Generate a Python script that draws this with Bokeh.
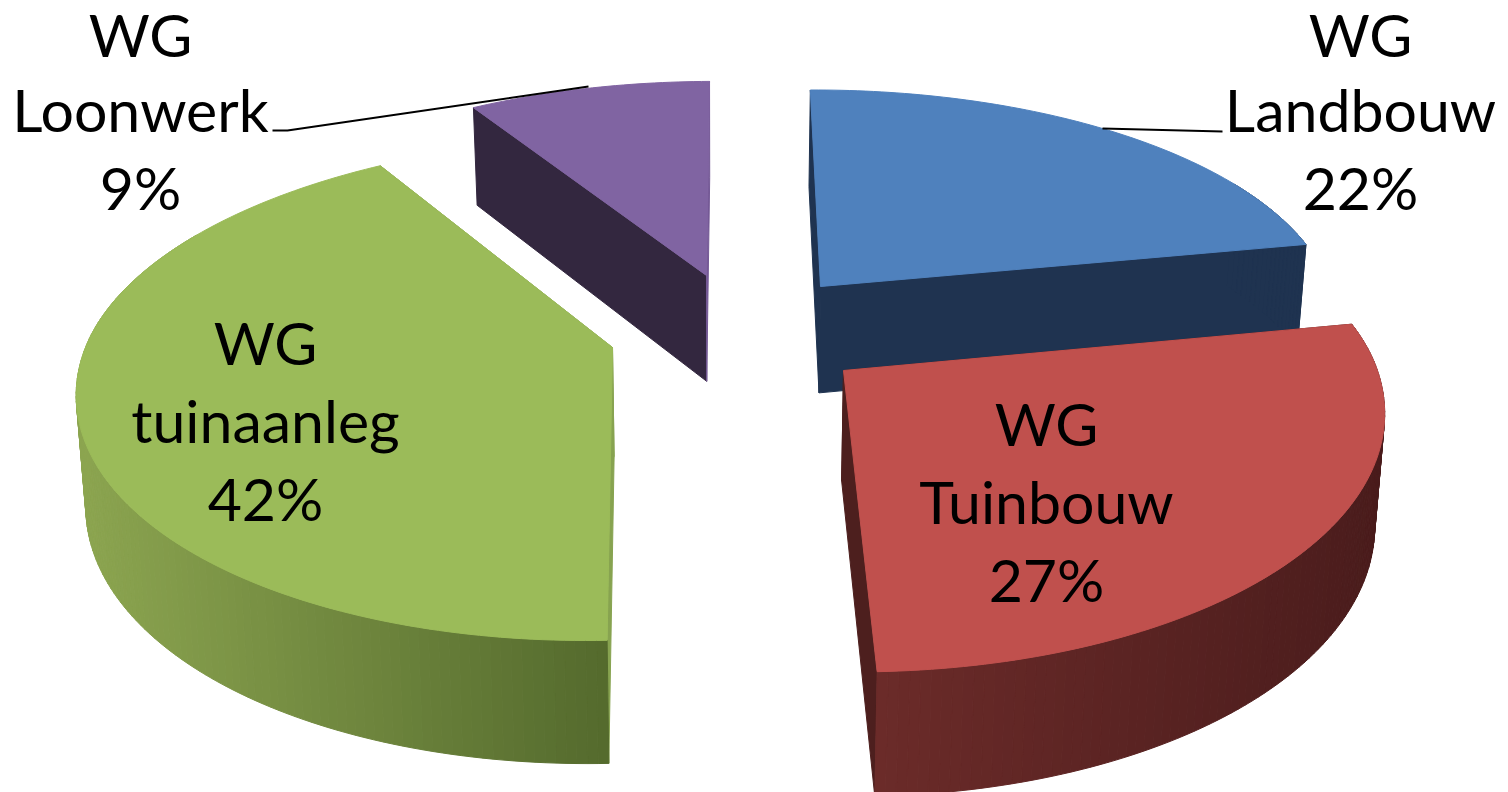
import math
from bokeh.plotting import figure
from bokeh.embed import file_html
from bokeh.resources import INLINE
from bokeh.core.properties import value

categories = ["WG Landbouw", "WG Tuinbouw", "WG tuinaanleg", "WG Loonwerk"]
shares = [22, 27, 42, 9]
label_lines = [["WG", "Landbouw", "22%"], ["WG", "Tuinbouw", "27%"], ["WG", "tuinaanleg", "42%"], ["WG", "Loonwerk", "9%"]]

# styles / layout
top_cols = ["#4f81bd", "#c0504d", "#9bbb59", "#8064a2"]
face_start = ["#1f3350", "#4d1f1e", "#87a350", "#33273f"]
face_end = ["#1f3350", "#4d1f1e", "#87a350", "#755a96"]
wall_a = ["#1f3350", "#6b2b29", "#8ca550", "#33273f"]
wall_b = ["#1f3350", "#4a1c1c", "#546a2d", "#33273f"]
apex = [(820, 286), (843, 370), (612, 347), (706, 275)]
label_x = [1360, 1046, 265, 140]
label_y = [(34, 109, 187), (423, 501, 579), (342, 420, 498), (34, 109, 187)]

PX, VY, AX, K, ROT, FAR = 773.0, -1409.0, 527.0, 0.143, 178.4, 0.95
C = 347 - VY
DEPTH, DEPTH_POW, CX, EPS = 109.3, 0.77, 720.0, 0.015
# the boundaries read a little further round in perspective than their nominal angle
NUDGE_BACK, NUDGE_RIGHT, NUDGE_LEFT = 2.2, 2.0, 1.0

def project(wx, wy):
    w = 1 - K * wy
    return PX + AX * wx / w, VY + C / w, w

def lower(x, y, w):
    return x + (CX - x) * EPS, y + DEPTH / w ** DEPTH_POW

p = figure(width=1508, height=792, x_range=(0, 1508), y_range=(792, 0),
           output_backend="svg", toolbar_location=None, min_border=0,
           outline_line_color=None)
p.axis.visible = False
p.grid.visible = False
p.background_fill_color = "white"
p.border_fill_color = "white"

bounds = []
start = ROT
for s in shares:
    end = start - s * 3.6
    bounds.append([start, end])
    start = end
bounds[0][0] += NUDGE_BACK
bounds[3][1] += NUDGE_BACK
bounds[0][1] += NUDGE_RIGHT
bounds[1][0] += NUDGE_RIGHT
bounds[2][1] += NUDGE_LEFT
bounds[3][0] += NUDGE_LEFT

order = [3, 0, 2, 1]
for i in order:
    ax, ay = apex[i]
    wa = C / (ay - VY)
    wy0 = (1 - wa) / K
    wx0 = (ax - PX) * wa / AX
    a0, a1 = bounds[i]
    n = max(8, int(abs(a1 - a0)))
    pts = []
    mids = []
    for j in range(n + 1):
        t = math.radians(a0 + (a1 - a0) * j / n)
        dy = math.cos(t)
        mids.append(dy)
        if dy < 0:
            dy *= FAR
        pts.append(project(wx0 + math.sin(t), wy0 + dy))
    apx = project(wx0, wy0)
    low = [lower(*q) for q in pts]
    alow = lower(*apx)
    # radial faces
    for q, l, col in ((pts[0], low[0], face_start[i]), (pts[-1], low[-1], face_end[i])):
        p.patch([apx[0], q[0], l[0], alow[0]], [apx[1], q[1], l[1], alow[1]],
                fill_color=col, line_color=col, line_width=1)
    # outer wall strips (the far side of the rim is never seen)
    xs, ys, cols = [], [], []
    ca = [int(wall_a[i][k:k + 2], 16) for k in (1, 3, 5)]
    cb = [int(wall_b[i][k:k + 2], 16) for k in (1, 3, 5)]
    xmin = min(q[0] for q in pts)
    xmax = max(q[0] for q in pts)
    for j in range(n):
        if mids[j] < -0.5:
            continue
        f = ((pts[j][0] + pts[j + 1][0]) / 2 - xmin) / (xmax - xmin)
        c = [round(u + (v - u) * f) for u, v in zip(ca, cb)]
        xs.append([pts[j][0], pts[j + 1][0], low[j + 1][0], low[j][0]])
        ys.append([pts[j][1], pts[j + 1][1], low[j + 1][1], low[j][1]])
        cols.append("#%02x%02x%02x" % tuple(c))
    if xs:
        p.patches(xs, ys, fill_color=cols, line_color=cols, line_width=1)
    # top surface
    p.patch([apx[0]] + [q[0] for q in pts], [apx[1]] + [q[1] for q in pts],
            fill_color=top_cols[i], line_color=top_cols[i], line_width=1)

# leader lines
p.line([272, 287, 588], [130, 130, 86], line_color="black", line_width=2)
p.line([1222, 1102], [131, 128], line_color="black", line_width=2)

for i, lines in enumerate(label_lines):
    for txt, y in zip(lines, label_y[i]):
        p.text([label_x[i]], [y], text=[txt], text_font=value("Lato"), text_font_size="59px",
               text_color="black", text_align="center", text_baseline="middle")

open("out.html", "w").write(file_html(p, INLINE))
